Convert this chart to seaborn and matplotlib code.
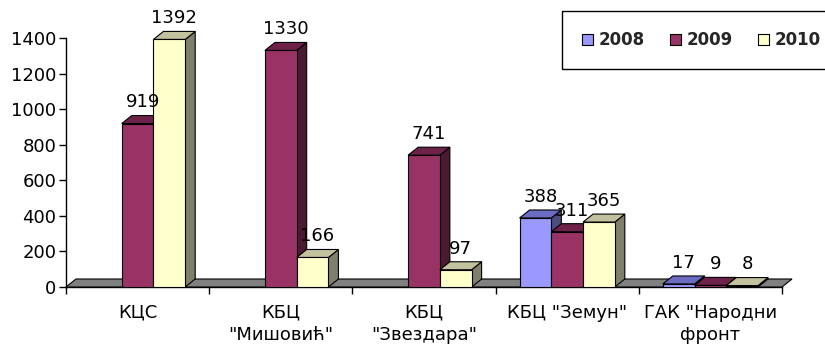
import numpy as np
import pandas as pd
import seaborn as sns
import matplotlib.pyplot as plt
from matplotlib.patches import Polygon, Patch

categories = ['КЦС', 'КБЦ\n"Мишовић"', 'КБЦ\n"Звездара"', 'КБЦ "Земун"', 'ГАК "Народни\nфронт']
years = ['2008', '2009', '2010']
v2008 = [np.nan, np.nan, np.nan, 388, 17]
v2009 = [919, 1330, 741, 311, 9]
v2010 = [1392, 166, 97, 365, 8]
yticks = [0, 200, 400, 600, 800, 1000, 1200, 1400]

front = {'2008': '#9999FF', '2009': '#993366', '2010': '#FFFFCC'}
top = {'2008': '#6B6BC2', '2009': '#6E2249', '2010': '#C2C29E'}
side = {'2008': '#4D4D80', '2009': '#4A1A33', '2010': '#80806A'}

rows = []
for y, vals in zip(years, [v2008, v2009, v2010]):
    for c, v in zip(categories, vals):
        rows.append({'cat': c, 'year': y, 'val': v})
df = pd.DataFrame(rows)

sns.set_theme(style='white')
plt.rcParams['font.family'] = ['DejaVu Sans']

FS = 13

fig = plt.figure(figsize=(8.25, 3.47), dpi=100)
ax = fig.add_axes([66 / 825, (347 - 287) / 347, (782 - 66) / 825, (287 - 38) / 347])

sns.barplot(data=df, x='cat', y='val', hue='year', order=categories, hue_order=years,
            palette=front, saturation=1, width=0.665, edgecolor='black', linewidth=0.8,
            errorbar=None, legend=False, ax=ax)

ax.set_xlim(-0.5, 4.5)
ax.set_ylim(0, 1400)

# depth of the pseudo-3D effect (in data units, ~10 px right, ~8 px up)
dx = 10 * 5 / 716
dy = 8 * 1400 / 249

# floor
floor = Polygon([(-0.5, 0), (4.5, 0), (4.5 + dx, dy), (-0.5 + dx, dy)], closed=True,
                facecolor='#808080', edgecolor='black', linewidth=0.8, zorder=2,
                clip_on=False)
ax.add_patch(floor)

for yi, cont in zip(years, ax.containers):
    for p in cont.patches:
        h = p.get_height()
        if h is None or np.isnan(h):
            continue
        x0 = p.get_x()
        w = p.get_width()
        x1 = x0 + w
        z = 3 + x0 * 0.1
        p.set_zorder(z + 0.02)
        topf = Polygon([(x0, h), (x1, h), (x1 + dx, h + dy), (x0 + dx, h + dy)], closed=True,
                       facecolor=top[yi], edgecolor='black', linewidth=0.8, zorder=z + 0.01,
                       clip_on=False)
        sidef = Polygon([(x1, 0), (x1 + dx, dy), (x1 + dx, h + dy), (x1, h)], closed=True,
                        facecolor=side[yi], edgecolor='black', linewidth=0.8, zorder=z,
                        clip_on=False)
        ax.add_patch(topf)
        ax.add_patch(sidef)
        ax.annotate(f'{int(h)}', xy=(x0 + w / 2 + dx / 2, h + dy), xytext=(0, 3),
                    textcoords='offset points', ha='center', va='bottom', fontsize=FS,
                    color='black', zorder=10, annotation_clip=False)

ax.set_xlabel('')
ax.set_ylabel('')
ax.set_yticks(yticks)
ax.set_yticklabels([str(t) for t in yticks])
ax.set_xticks(range(len(categories)))
ax.set_xticklabels(categories, linespacing=1.3)
ax.set_xticks(np.arange(-0.5, 5, 1), minor=True)
ax.tick_params(axis='x', which='major', length=0, pad=12, labelsize=FS, colors='black')
ax.tick_params(axis='x', which='minor', length=5, width=1, direction='out', color='black', bottom=True)
ax.tick_params(axis='y', length=5, width=1, direction='out', pad=2, labelsize=FS,
               colors='black', left=True)

for s in ['top', 'right']:
    ax.spines[s].set_visible(False)
for s in ['left', 'bottom']:
    ax.spines[s].set_color('black')
    ax.spines[s].set_linewidth(1)
    ax.spines[s].set_zorder(1)
ax.patch.set_alpha(0)

handles = [Patch(facecolor=front[y], edgecolor='black', linewidth=0.8, label=y) for y in years]
leg = fig.legend(handles=handles, loc='upper left', bbox_to_anchor=(562 / 825, 1 - 11 / 347),
                 ncol=3, frameon=True, fancybox=False, edgecolor='black', framealpha=1,
                 prop={'family': 'DejaVu Sans', 'weight': 'bold', 'size': 12},
                 handlelength=0.65, handleheight=0.65,
                 handletextpad=0.35, columnspacing=1.5, borderpad=1.2, borderaxespad=0)
leg.get_frame().set_linewidth(1)

fig.savefig('out.png', dpi=100)
